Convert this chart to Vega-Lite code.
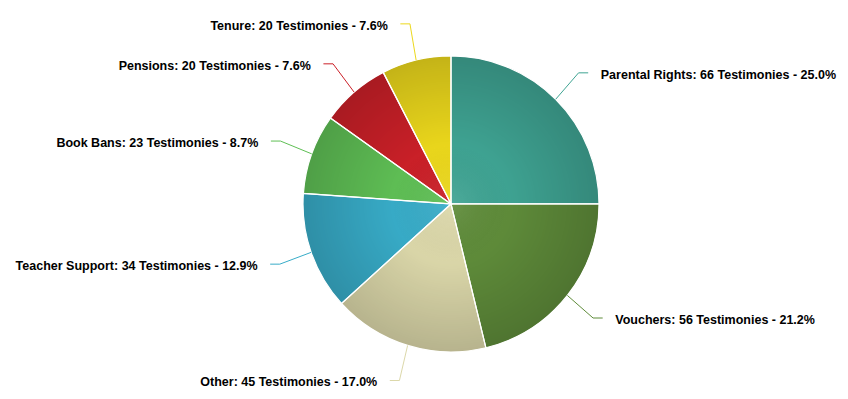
{
  "$schema": "https://vega.github.io/schema/vega-lite/v6.json",
  "width": 848,
  "height": 399,
  "padding": 0,
  "autosize": {"type": "none"},
  "background": "#ffffff",
  "config": {"view": {"stroke": null}},
  "data": {
    "values": [
      {"topic": "Parental Rights", "count": 66, "order": 1},
      {"topic": "Vouchers", "count": 56, "order": 2},
      {"topic": "Other", "count": 45, "order": 3},
      {"topic": "Teacher Support", "count": 34, "order": 4},
      {"topic": "Book Bans", "count": 23, "order": 5},
      {"topic": "Pensions", "count": 20, "order": 6},
      {"topic": "Tenure", "count": 20, "order": 7}
    ]
  },
  "transform": [
    {"joinaggregate": [{"op": "sum", "field": "count", "as": "total"}]},
    {"window": [{"op": "sum", "field": "count", "as": "cum"}], "sort": [{"field": "order"}], "frame": [null, 0]},
    {"calculate": "2*PI*(datum.cum - datum.count/2)/datum.total", "as": "mid"},
    {"calculate": "sin(datum.mid)", "as": "ex"},
    {"calculate": "cos(datum.mid)", "as": "ey"},
    {"calculate": "datum.ex > 0 ? 1 : -1", "as": "side"},
    {"calculate": "datum.ex*1.24 + datum.side*0.135", "as": "lx"},
    {"calculate": "datum.ey*1.25 - 0.01", "as": "ly"},
    {"calculate": "datum.lx - datum.side*0.085", "as": "endx"},
    {"calculate": "datum.lx - datum.side*0.15", "as": "elbx"},
    {"calculate": "datum.ly + 0.012", "as": "endy"},
    {"calculate": "datum.topic + ': ' + datum.count + ' Testimonies - ' + format(100*datum.count/datum.total, '.1f') + '%'", "as": "label"}
  ],
  "layer": [
    {
      "mark": {"type": "arc", "outerRadius": 148},
      "encoding": {
        "theta": {"field": "count", "type": "quantitative", "stack": true},
        "order": {"field": "order", "type": "quantitative"},
        "color": {
          "field": "topic", "type": "nominal", "legend": null,
          "scale": {
            "domain": ["Parental Rights", "Vouchers", "Other", "Teacher Support", "Book Bans", "Pensions", "Tenure"],
            "range": ["#3fa493", "#5f8c3a", "#dcd8aa", "#38acc8", "#5fbf55", "#cb2028", "#ecd81c"]
          }
        },
        "x": {"datum": 0, "type": "quantitative", "scale": {"domain": [-3.047, 2.682], "nice": false, "zero": false}, "axis": null},
        "y": {"datum": 0, "type": "quantitative", "scale": {"domain": [-1.318, 1.378], "nice": false, "zero": false}, "axis": null}
      }
    },
    {
      "transform": [{"aggregate": [{"op": "sum", "field": "count", "as": "all"}]}],
      "mark": {
        "type": "arc", "outerRadius": 148,
        "fill": {
          "gradient": "radial", "x1": 0.5, "y1": 0.5, "r1": 0, "x2": 0.5, "y2": 0.5, "r2": 0.5,
          "stops": [
            {"offset": 0, "color": "rgba(255,255,255,0.08)"},
            {"offset": 0.4, "color": "rgba(0,0,0,0.01)"},
            {"offset": 1, "color": "rgba(0,0,0,0.17)"}
          ]
        }
      },
      "encoding": {
        "theta": {"field": "all", "type": "quantitative"},
        "x": {"datum": 0, "type": "quantitative"},
        "y": {"datum": 0, "type": "quantitative"}
      }
    },
    {
      "mark": {"type": "arc", "outerRadius": 148, "fill": "transparent", "stroke": "#ffffff", "strokeWidth": 1.2},
      "encoding": {
        "theta": {"field": "count", "type": "quantitative", "stack": true},
        "order": {"field": "order", "type": "quantitative"},
        "x": {"datum": 0, "type": "quantitative"},
        "y": {"datum": 0, "type": "quantitative"}
      }
    },
    {
      "mark": {"type": "rule", "strokeWidth": 1},
      "encoding": {
        "x": {"field": "ex", "type": "quantitative"},
        "y": {"field": "ey", "type": "quantitative"},
        "x2": {"field": "elbx"},
        "y2": {"field": "endy"},
        "color": {"field": "topic", "type": "nominal", "legend": null}
      }
    },
    {
      "mark": {"type": "rule", "strokeWidth": 1},
      "encoding": {
        "x": {"field": "elbx", "type": "quantitative"},
        "y": {"field": "endy", "type": "quantitative"},
        "x2": {"field": "endx"},
        "y2": {"field": "endy"},
        "color": {"field": "topic", "type": "nominal", "legend": null}
      }
    },
    {
      "transform": [{"filter": "datum.side > 0"}],
      "mark": {"type": "text", "align": "left", "baseline": "middle", "font": "Liberation Sans", "fontSize": 12.5, "fontWeight": "bold", "fill": "#000000"},
      "encoding": {
        "x": {"field": "lx", "type": "quantitative"},
        "y": {"field": "ly", "type": "quantitative"},
        "text": {"field": "label"}
      }
    },
    {
      "transform": [{"filter": "datum.side < 0"}],
      "mark": {"type": "text", "align": "right", "baseline": "middle", "font": "Liberation Sans", "fontSize": 12.5, "fontWeight": "bold", "fill": "#000000"},
      "encoding": {
        "x": {"field": "lx", "type": "quantitative"},
        "y": {"field": "ly", "type": "quantitative"},
        "text": {"field": "label"}
      }
    }
  ]
}
